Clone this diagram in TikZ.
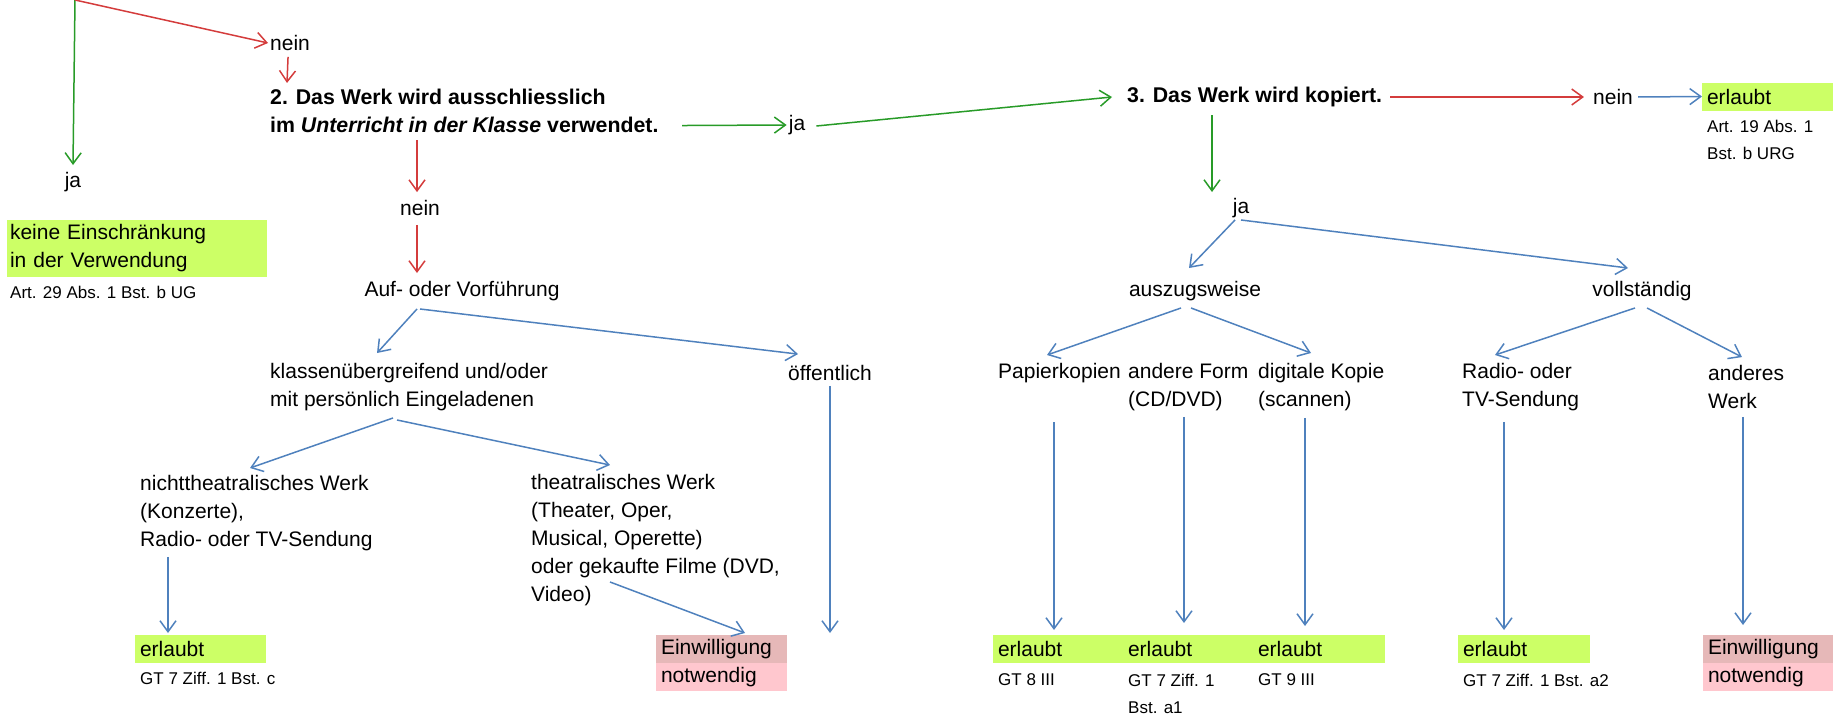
\documentclass[tikz,border=0pt]{standalone}
\usepackage{fontspec}
\setmainfont{Liberation Sans}
\usetikzlibrary{arrows.meta,positioning}

\definecolor{jagreen}{RGB}{40,155,40}
\definecolor{neinred}{RGB}{212,60,60}
\definecolor{flowblue}{RGB}{79,129,189}
\definecolor{okgreen}{RGB}{204,255,102}
\definecolor{stopdark}{RGB}{230,184,184}
\definecolor{stoplight}{RGB}{255,199,206}

\tikzset{
  txt/.style={font=\fontsize{21}{28}\selectfont, align=left, inner sep=2pt},
  frage/.style={txt, font=\bfseries\fontsize{21.3}{28}\selectfont},
  quelle/.style={font=\fontsize{17}{27}\selectfont, align=left, inner sep=2pt, anchor=west},
  okbox/.style={txt, fill=okgreen, anchor=north west, minimum height=28pt, inner xsep=5pt, outer sep=0pt, text width=121pt},
  stopbox/.style={txt, anchor=north west, minimum height=28pt, inner xsep=5pt, outer sep=0pt, text width=121pt},
  pfeil/.style={line width=1.5pt, -{Straight Barb[length=11pt,width=16pt]}},
  japfeil/.style={pfeil, jagreen},
  neinpfeil/.style={pfeil, neinred},
  blaupfeil/.style={pfeil, flowblue}
}

\begin{document}
\begin{tikzpicture}[x=1pt, y=1pt]
    \useasboundingbox (0,0) rectangle (1833,-717);

    % Frage 1 (oben abgeschnitten)
    \coordinate (q1) at (75,0);
    \node[txt] (ja1) at (73,-182) {ja};
    \node[txt, anchor=west] (nein1) at (268,-43) {nein};
    \node[okbox, minimum height=57pt, inner xsep=3pt, text width=254pt] (keine) at (7,-220) {keine Einschränkung\\in der Verwendung};
    \node[quelle] (art29) at (8,-292) {Art. 29 Abs. 1 Bst. b UG};

    % Frage 2
    \node[frage, anchor=west] (q2) at (268,-111) {2. Das Werk wird ausschliesslich\\im \textit{Unterricht in der Klasse} verwendet.};
    \node[txt] (nein2) at (420,-208) {nein};
    \node[txt] (auf) at (462,-291) {Auf- oder Vorführung};
    \node[txt, anchor=west] (klass) at (268,-387) {klassenübergreifend und/oder\\mit persönlich Eingeladenen};
    \node[txt] (oeff) at (830,-373) {öffentlich};
    \coordinate (oeffend) at (830,-633);
    \node[txt, anchor=west] (nicht) at (138,-513) {nichttheatralisches Werk\\(Konzerte),\\Radio- oder TV-Sendung};
    \node[txt, anchor=west] (theat) at (529,-540) {theatralisches Werk\\(Theater, Oper,\\Musical, Operette)\\oder gekaufte Filme (DVD,\\Video)};
    \node[okbox] (okunterricht) at (135,-635) {erlaubt};
    \node[quelle] (gt7c) at (138,-678) {GT 7 Ziff. 1 Bst. c};
    \node[stopbox, fill=stopdark] (einw1) at (656,-635) {Einwilligung};
    \node[stopbox, fill=stoplight, below=0pt of einw1] (notw1) {notwendig};

    % Frage 3
    \node[txt] (ja2) at (797,-125) {ja};
    \node[frage, anchor=west] (q3) at (1125,-97) {3. Das Werk wird kopiert.};
    \node[txt] (nein3) at (1613,-97) {nein};
    \node[okbox, anchor=west, text width=130pt] (okurg) at (1702,-96.5) {erlaubt};
    \node[quelle] (art19) at (1705,-139.5) {Art. 19 Abs. 1\\Bst. b URG};
    \node[txt] (ja3) at (1241,-208) {ja};
    \node[txt] (ausz) at (1195,-291) {auszugsweise};
    \node[txt] (voll) at (1642,-291) {vollständig};
    \node[txt, anchor=west] (papier) at (996,-373) {Papierkopien};
    \node[txt, anchor=west] (andere) at (1126,-387) {andere Form\\(CD/DVD)};
    \node[txt, anchor=west] (digital) at (1256,-387) {digitale Kopie\\(scannen)};
    \node[txt, anchor=west] (radio) at (1460,-387) {Radio- oder\\TV-Sendung};
    \node[txt, anchor=west] (anders) at (1706,-387) {anderes\\Werk};
    \node[okbox, text width=120pt] (okpapier) at (993,-635) {erlaubt};
    \node[okbox, text width=120pt, right=0pt of okpapier] (okform) {erlaubt};
    \node[okbox, text width=122pt, right=0pt of okform] (okdigital) {erlaubt};
    \node[quelle] (gt8) at (996,-680) {GT 8 III};
    \node[quelle] (gt7a1) at (1126,-693.5) {GT 7 Ziff. 1\\Bst. a1};
    \node[quelle] (gt9) at (1256,-680) {GT 9 III};
    \node[okbox, text width=122pt] (okradio) at (1458,-635) {erlaubt};
    \node[quelle] (gt7a2) at (1461,-680) {GT 7 Ziff. 1 Bst. a2};
    \node[stopbox, fill=stopdark] (einw2) at (1703,-635) {Einwilligung};
    \node[stopbox, fill=stoplight, below=0pt of einw2] (notw2) {notwendig};

    % Pfeile
    \draw[japfeil] (q1) -- ([yshift=5pt]ja1.north);
    \draw[neinpfeil] (q1) -- (nein1.west);
    \draw[neinpfeil] ([shift={(-2,-4)}]nein1.south) -- ([shift={(19,4)}]q2.north west);
    \draw[neinpfeil] ([shift={(149,-5)}]q2.south west) -- ([shift={(-3,6)}]nein2.north);
    \draw[neinpfeil] ([shift={(-3,-7)}]nein2.south) -- ([shift={(-45,6)}]auf.north);
    \draw[japfeil] ([shift={(414,9.5)}]q2.south west) -- (ja2.west);
    \draw[japfeil] ([shift={(9,-1)}]ja2.east) -- ([xshift=-13pt]q3.west);
    \draw[neinpfeil] ([xshift=6pt]q3.east) -- ([xshift=-7pt]nein3.west);
    \draw[blaupfeil] ([xshift=3pt]nein3.east) -- (okurg.west);
    \draw[japfeil] ([shift={(87,-6)}]q3.south west) -- ([shift={(-29,4)}]ja3.north);

    \draw[blaupfeil] ([shift={(-45,-6)}]auf.south) -- ([shift={(109,8)}]klass.north west);
    \draw[blaupfeil] ([shift={(-42,-6)}]auf.south) -- ([shift={(-32,9)}]oeff.north);
    \draw[blaupfeil] ([yshift=-3pt]oeff.south) -- (oeffend);
    \draw[blaupfeil] ([shift={(125,-5)}]klass.south west) -- ([shift={(112,5)}]nicht.north west);
    \draw[blaupfeil] ([shift={(129,-7)}]klass.south west) -- ([shift={(81,7)}]theat.north west);
    \draw[blaupfeil] ([shift={(30,-4)}]nicht.south west) -- ([shift={(33,2)}]okunterricht.north west);
    \draw[blaupfeil] ([shift={(81,26)}]theat.south west) -- ([shift={(89,2)}]einw1.north west);

    \draw[blaupfeil] ([xshift=-6pt]ja3.south) -- ([shift={(-6,11)}]ausz.north);
    \draw[blaupfeil] (ja3.south) -- ([shift={(-14,11)}]voll.north);
    \draw[blaupfeil] ([shift={(-14,-5)}]ausz.south) -- ([shift={(51,6)}]papier.north west);
    \draw[blaupfeil] ([shift={(-4,-5)}]ausz.south) -- ([shift={(55,8)}]digital.north west);
    \draw[blaupfeil] ([shift={(58,-37.5)}]papier.south west) -- ([shift={(61,5)}]okpapier.north west);
    \draw[blaupfeil] ([shift={(58,-4)}]andere.south west) -- ([shift={(61,12)}]okform.north west);
    \draw[blaupfeil] ([shift={(49,-5)}]digital.south west) -- ([shift={(52,9)}]okdigital.north west);
    \draw[blaupfeil] ([shift={(-7,-5)}]voll.south) -- ([shift={(35,6)}]radio.north west);
    \draw[blaupfeil] ([shift={(5,-5)}]voll.south) -- ([shift={(36,6)}]anders.north west);
    \draw[blaupfeil] ([shift={(44,-9)}]radio.south west) -- ([shift={(46,5)}]okradio.north west);
    \draw[blaupfeil] ([shift={(37,-6)}]anders.south west) -- ([shift={(40,10)}]einw2.north west);
\end{tikzpicture}
\end{document}
